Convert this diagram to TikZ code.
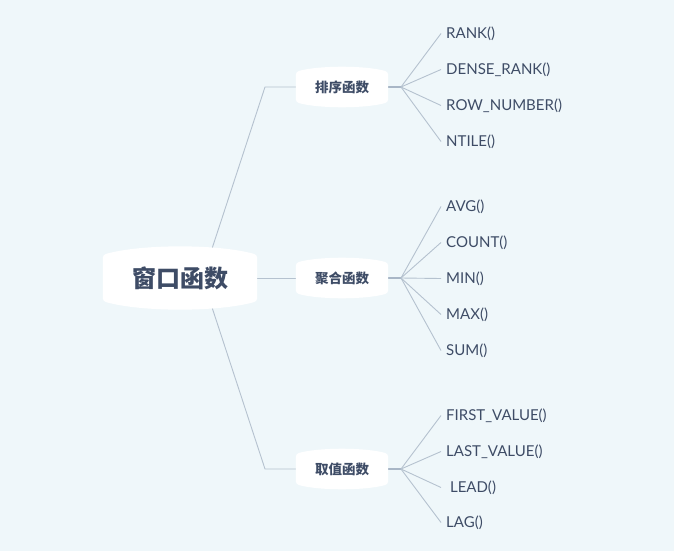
\documentclass[tikz,border=0pt]{standalone}
\usepackage{fontspec}
\setmainfont{Lato}
\newfontfamily\cjk{Noto Sans CJK SC}
\usetikzlibrary{calc,backgrounds}
\definecolor{bgc}{HTML}{EFF7FA}
\definecolor{txt}{HTML}{3E4C66}
\definecolor{lnc}{HTML}{B5C2CF}
\definecolor{stub}{HTML}{A8B6C6}
\newcommand\bulgeshape[2]{%
  \fill[white,rounded corners=3pt] (#1.south west) -- (#1.north west)
    .. controls ($(#1.north west)!0.25!(#1.north east)+(0,-#2)$) and ($(#1.north west)!0.75!(#1.north east)+(0,-#2)$) .. (#1.north east)
    -- (#1.south east)
    .. controls ($(#1.south east)!0.25!(#1.south west)+(0,#2)$) and ($(#1.south east)!0.75!(#1.south west)+(0,#2)$) .. (#1.south west) -- cycle;}
\begin{document}
\begin{tikzpicture}[x=1pt,y=-1pt,
  rootbox/.style={minimum width=154pt,minimum height=46pt,inner sep=0pt,text=txt,font=\cjk\bfseries\fontsize{24}{28}\selectfont},
  midbox/.style={minimum width=92pt,minimum height=30pt,inner sep=0pt,text=txt,font=\cjk\bfseries\fontsize{13.5}{16}\selectfont},
  leaf/.style={anchor=west,inner xsep=5pt,inner ysep=0pt,text=txt,font=\fontsize{15}{18}\selectfont},
  conn/.style={draw=lnc,line width=0.9pt},
  stubline/.style={draw=stub,line width=2pt}]
\begin{scope}[on background layer]
\fill[bgc] (0,0) rectangle (674,551);
\end{scope}
\useasboundingbox (0,0) rectangle (674,551);
% nodes
\node[rootbox] (root) at (180,278) {窗口函数};
\node[midbox] (m1) at (342,87) {排序函数};
\node[midbox] (m2) at (342,278) {聚合函数};
\node[midbox] (m3) at (342,469) {取值函数};
\coordinate (e1) at (265,87);
\coordinate (e3) at (265,469);
\coordinate (j1) at (401,87);
\coordinate (j2) at (401,278);
\coordinate (j3) at (401,469);
% leaves
\node[leaf] (a1) at (441,33.5) {RANK()};
\node[leaf] (a2) at (441,69.5) {DENSE\_RANK()};
\node[leaf] (a3) at (441,105.5) {ROW\_NUMBER()};
\node[leaf] (a4) at (441,141.5) {NTILE()};
\node[leaf] (b1) at (441,206.5) {AVG()};
\node[leaf] (b2) at (441,242.5) {COUNT()};
\node[leaf] (b3) at (441,278.5) {MIN()};
\node[leaf] (b4) at (441,314.5) {MAX()};
\node[leaf] (b5) at (441,350.5) {SUM()};
\node[leaf] (c1) at (441,415.5) {FIRST\_VALUE()};
\node[leaf] (c2) at (441,451.5) {LAST\_VALUE()};
\node[leaf] (c3) at (441,487.5) {~LEAD()};
\node[leaf] (c4) at (441,522.5) {LAG()};
\begin{scope}[on background layer]
\draw[conn] ($(root.north)+(30,0)$) -- (e1) -- (m1.west);
\draw[conn] (root.east) -- (m2.west);
\draw[conn] ($(root.south)+(30,0)$) -- (e3) -- (m3.west);
\draw[stubline] (m1.east) -- (j1);
\draw[stubline] (m2.east) -- (j2);
\draw[stubline] (m3.east) -- (j3);
\foreach \l in {a1,a2,a3,a4} \draw[conn] (j1) -- (\l.west);
\foreach \l in {b1,b2,b3,b4,b5} \draw[conn] (j2) -- (\l.west);
\foreach \l in {c1,c2,c3,c4} \draw[conn] (j3) -- (\l.west);
\bulgeshape{root}{11}
\bulgeshape{m1}{6.5}
\bulgeshape{m2}{6.5}
\bulgeshape{m3}{6.5}
\end{scope}
\end{tikzpicture}
\end{document}
